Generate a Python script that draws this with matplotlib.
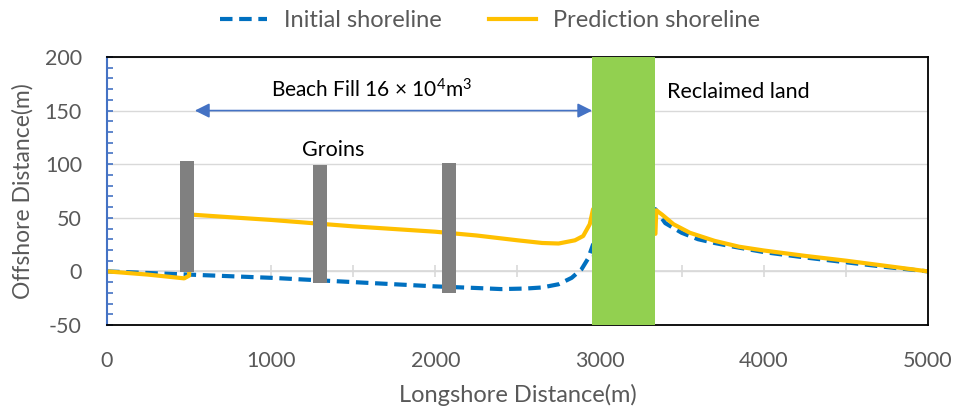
import matplotlib
matplotlib.use("Agg")
import matplotlib.pyplot as plt
from matplotlib.ticker import MultipleLocator

plt.rcParams["font.family"] = ["Lato", "DejaVu Sans"]
plt.rcParams["mathtext.default"] = "regular"
plt.rcParams["axes.unicode_minus"] = False

# --- data ------------------------------------------------------------------
initial_x = [0, 250, 500, 750, 1000, 1250, 1500, 1750, 2000, 2250, 2400, 2550,
             2650, 2750, 2830, 2890, 2930, 2960, 3000,
             3340, 3400, 3500, 3600, 3700, 3800, 4000, 4250, 4500, 4750, 5000]
initial_y = [0, -1.5, -3, -4.5, -6, -8, -10, -12, -14, -15.5, -16.5, -16,
             -15, -12, -6, 2, 12, 25, -50,
             58, 45, 36, 30, 26.5, 23.5, 18, 13, 8.5, 4, 0]

pred_x = [0, 250, 470, 500, 510, 750, 1000, 1250, 1500, 1750, 2000, 2250, 2500,
          2650, 2750, 2850, 2900, 2940, 2960,
          3340, 3345, 3380, 3450, 3550, 3700, 3850, 4000, 4250, 4500, 4750, 5000]
pred_y = [0, -3, -6.5, -4, 53, 50.5, 48, 45, 42, 39.5, 37, 33.5, 29,
          26.5, 26, 29, 33, 44, 58,
          35, 57, 53, 44, 36, 28.5, 23, 19.5, 14.5, 10, 5, 0]

groin_x = [485, 1295, 2085]
groin_top = [103, 99, 101]
groin_bottom = [-1, -11, -20]
groin_width = 85

land_left, land_right = 2955, 3335
fill_start, fill_end, fill_level = 535, 2955, 150

GRAY_TXT = "#595959"
BLUE = "#0070C0"
ORANGE = "#FFC000"

fig = plt.figure(figsize=(9.57, 4.07), dpi=100)
ax = fig.add_axes([0.1118, 0.2015, 0.8579, 0.6585])

ax.plot(initial_x, initial_y, color=BLUE, lw=3, dashes=(3, 1.6),
        label="Initial shoreline", zorder=2, solid_capstyle="butt")
ax.plot(pred_x, pred_y, color=ORANGE, lw=3, label="Prediction shoreline",
        zorder=2.1, solid_joinstyle="round")

ax.bar(groin_x, [t - b for t, b in zip(groin_top, groin_bottom)],
       bottom=groin_bottom, width=groin_width, color="#808080", zorder=3)
ax.bar([(land_left + land_right) / 2], [250], bottom=[-50],
       width=land_right - land_left, color="#92D050", zorder=3)

ax.annotate("", xy=(fill_end, fill_level), xytext=(fill_start, fill_level),
            arrowprops=dict(arrowstyle="<|-|>", color="#4472C4", lw=1.2,
                            mutation_scale=22, shrinkA=0, shrinkB=0))
ax.text(1610, 169, "Beach Fill 16 × 10$^{4}$m$^{3}$", fontsize=15,
        ha="center", va="center", color="black")
ax.text(1375, 113, "Groins", fontsize=15.5, ha="center", va="center")
ax.text(3410, 167, "Reclaimed land", fontsize=15.5, ha="left", va="center")

ax.set_xlim(0, 5000)
ax.set_ylim(-50, 200)
ax.xaxis.set_major_locator(MultipleLocator(1000))
ax.yaxis.set_major_locator(MultipleLocator(50))
ax.yaxis.set_minor_locator(MultipleLocator(10))
ax.tick_params(axis="x", length=0, pad=19, labelsize=15.5, labelcolor=GRAY_TXT)
ax.tick_params(axis="y", which="both", direction="in", length=4,
               color="#4472C4", width=1.2, pad=18, labelsize=15.5,
               labelcolor=GRAY_TXT)
ax.grid(axis="y", color="#D9D9D9", lw=1, zorder=0)
ax.set_axisbelow(True)

for side in ("top", "right", "bottom"):
    ax.spines[side].set_color("black")
    ax.spines[side].set_linewidth(1.3)
ax.spines["left"].set_color("#4472C4")
ax.spines["left"].set_linewidth(1.5)

# horizontal axis line at y = 0 with crossing ticks
zero_pos = (0 - ax.get_ylim()[0]) / (ax.get_ylim()[1] - ax.get_ylim()[0])
sec = ax.secondary_xaxis(zero_pos)
sec.xaxis.set_major_locator(MultipleLocator(500))
sec.tick_params(direction="inout", length=9, color="#D9D9D9", width=1.2,
                labelbottom=False)
sec.spines["bottom"].set_color("#D9D9D9")
sec.spines["bottom"].set_linewidth(1.2)

ax.set_xlabel("Longshore Distance(m)", fontsize=17, color=GRAY_TXT, labelpad=9)
ax.set_ylabel("Offshore Distance(m)", fontsize=16.5, color=GRAY_TXT, labelpad=8)

fig.legend(loc="center", bbox_to_anchor=(0.512, 0.95), ncol=2, frameon=False,
           fontsize=17, labelcolor=GRAY_TXT, handlelength=2.0,
           columnspacing=2.0, handletextpad=0.7)

fig.savefig("out.png", dpi=100)
